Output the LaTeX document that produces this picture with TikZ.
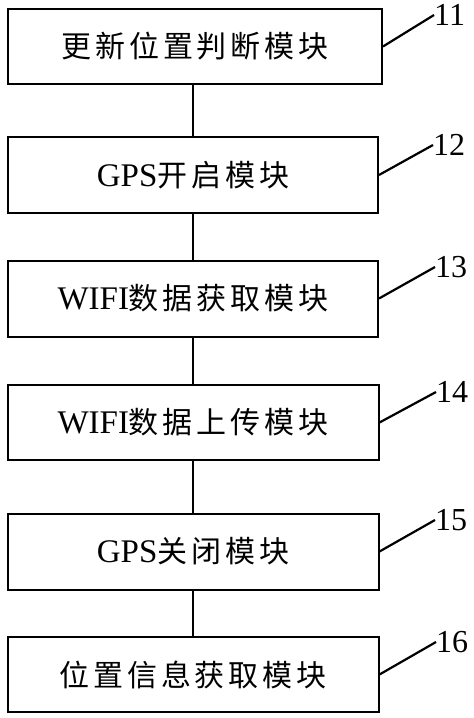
\documentclass[tikz,border=0pt]{standalone}
\usepackage{fontspec}
\setmainfont{Liberation Serif}
\newfontfamily\cjk[LetterSpace=13]{Noto Sans CJK SC}
\newcommand{\lt}[1]{{\fontsize{33}{36}\selectfont #1}}
\newcommand{\zh}[1]{{\cjk\fontsize{30}{36}\selectfont #1}}
\begin{document}
\begin{tikzpicture}[x=1pt,y=-1pt,
  modbox/.style={draw, line width=2pt, rectangle, inner sep=0pt, align=center},
  lab/.style={inner sep=0pt, anchor=west, font=\fontsize{32}{34}\selectfont},
  conn/.style={line width=2pt},
  lead/.style={line width=2.2pt}]
\useasboundingbox (0,0) rectangle (474,718);
\node[modbox, minimum width=374pt, minimum height=75pt] (b1) at (195,46.5) {\zh{更新位置判断模块}};
\node[modbox, minimum width=370pt, minimum height=76pt] (b2) at (193,175) {\lt{GPS}\zh{开启模块}};
\node[modbox, minimum width=370pt, minimum height=76pt] (b3) at (193,298.5) {\lt{WIFI}\zh{数据获取模块}};
\node[modbox, minimum width=371pt, minimum height=75pt] (b4) at (193,422.5) {\lt{WIFI}\zh{数据上传模块}};
\node[modbox, minimum width=371pt, minimum height=76pt] (b5) at (193,551.5) {\lt{GPS}\zh{关闭模块}};
\node[modbox, minimum width=371pt, minimum height=75pt] (b6) at (193,674.5) {\zh{位置信息获取模块}};
\draw[conn] (b1.south -| b2.north) -- (b2.north);
\draw[conn] (b2.south) -- (b3.north);
\draw[conn] (b3.south) -- (b4.north);
\draw[conn] (b4.south) -- (b5.north);
\draw[conn] (b5.south) -- (b6.north);
\node[lab] (l1) at (434,15) {11};
\node[lab] (l2) at (433,145) {12};
\node[lab] (l3) at (435,267) {13};
\node[lab] (l4) at (436,392) {14};
\node[lab] (l5) at (435,520) {15};
\node[lab] (l6) at (436,642) {16};
\draw[lead] (b1.east) -- (l1.west);
\draw[lead] (b2.east) -- (l2.west);
\draw[lead] (b3.east) -- (l3.west);
\draw[lead] (b4.east) -- (l4.west);
\draw[lead] (b5.east) -- (l5.west);
\draw[lead] (b6.east) -- (l6.west);
\end{tikzpicture}
\end{document}
